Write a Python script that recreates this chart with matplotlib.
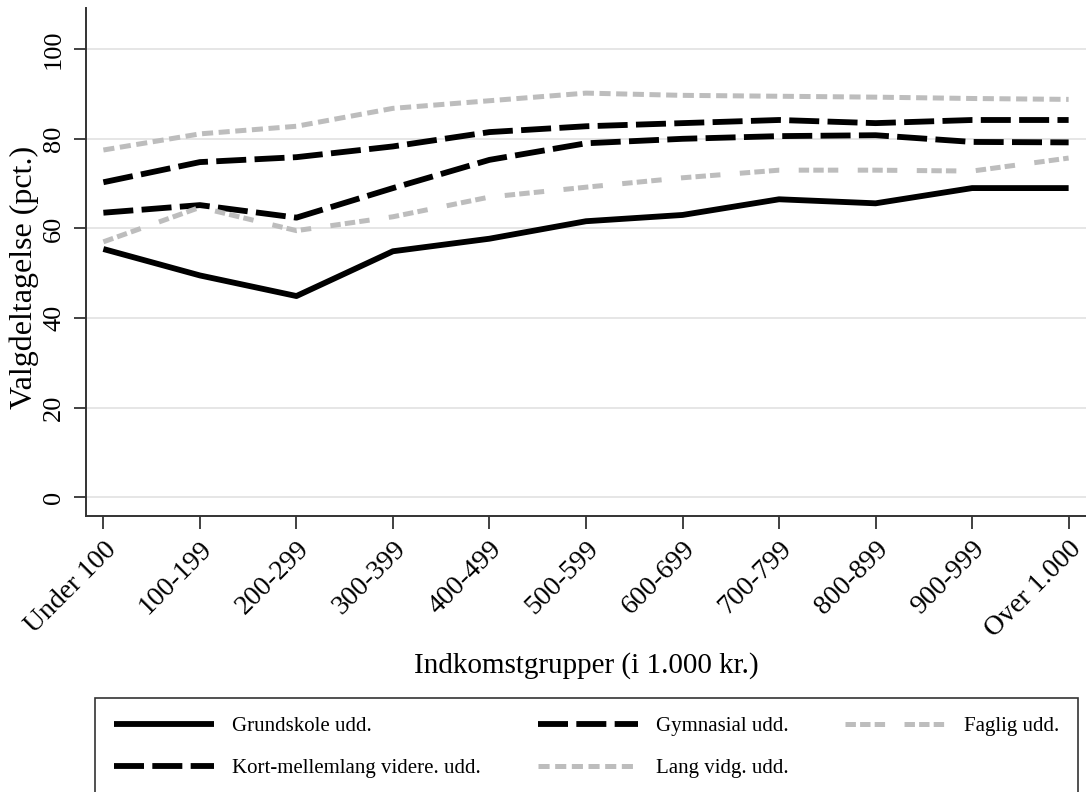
import matplotlib
matplotlib.use('Agg')
import matplotlib.pyplot as plt
import numpy as np

plt.rcParams['font.family'] = ['Liberation Serif', 'DejaVu Serif']
plt.rcParams['lines.scale_dashes'] = False

# data
groups = ['Under 100', '100-199', '200-299', '300-399', '400-499', '500-599',
          '600-699', '700-799', '800-899', '900-999', 'Over 1.000']
grundskole = [55.4, 49.5, 44.9, 54.9, 57.7, 61.6, 63.0, 66.5, 65.6, 69.0, 69.0]
gymnasial = [63.5, 65.2, 62.4, 69.0, 75.3, 79.0, 80.0, 80.6, 80.8, 79.3, 79.2]
faglig = [57.0, 64.7, 59.5, 62.6, 67.0, 69.2, 71.3, 73.0, 73.0, 72.8, 75.7]
kortmellem = [70.3, 74.8, 75.9, 78.3, 81.5, 82.8, 83.5, 84.2, 83.5, 84.2, 84.2]
langvid = [77.5, 81.1, 82.8, 86.8, 88.5, 90.2, 89.7, 89.5, 89.3, 89.0, 88.8]

x = np.arange(len(groups))
grey = '#bdbdbd'

fig = plt.figure(figsize=(10.86, 7.92), dpi=100)
ax = fig.add_axes([86/1086, 1-516/792, 1-86/1086, (516-8)/792])

l1, = ax.plot(x, grundskole, color='black', lw=4.2, label='Grundskole udd.')
l2, = ax.plot(x, gymnasial, color='black', lw=4.2, dashes=(21.6, 6), label='Gymnasial udd.')
l3, = ax.plot(x, faglig, color=grey, lw=3.6, dashes=(7.5, 3, 7.5, 3, 7.5, 14),
              label='Faglig udd.')
l4, = ax.plot(x, kortmellem, color='black', lw=4.2, dashes=(21.6, 6),
              label='Kort-mellemlang videre. udd.')
l5, = ax.plot(x, langvid, color=grey, lw=3.6, dashes=(8, 4), label='Lang vidg. udd.')
for ln in [l1, l2, l3, l4, l5]:
    ln.set_solid_capstyle('butt')
    ln.set_dash_capstyle('butt')

ax.set_xlim(-0.18, 10.18)
ax.set_ylim(-4.2, 109.2)
ax.set_yticks([0, 20, 40, 60, 80, 100])
ax.set_xticks(x)
ax.set_xticklabels(groups, rotation=45, ha='right', rotation_mode='anchor', fontsize=20)
for lab in ax.get_yticklabels():
    lab.set_rotation(90)
    lab.set_va('center')
    lab.set_fontsize(19)
ax.tick_params(axis='both', direction='out', length=9, width=1.3, color='#333333', pad=6)
ax.grid(axis='y', color='#e6e6e6', lw=1.4)
ax.set_axisbelow(True)
for s in ['top', 'right']:
    ax.spines[s].set_visible(False)
for s in ['left', 'bottom']:
    ax.spines[s].set_color('#333333')
    ax.spines[s].set_linewidth(1.4)

ax.set_ylabel('Valgdeltagelse (pct.)', fontsize=23)
ax.yaxis.set_label_coords(-0.047, 0.47)
ax.set_xlabel('Indkomstgrupper (i 1.000 kr.)', fontsize=21)
ax.xaxis.set_label_coords(0.5, -0.268)

order = [l1, l4, l2, l5, l3]
leg = fig.legend(order, [h.get_label() for h in order],
                 loc='upper left', bbox_to_anchor=(95/1086, 0.0, (1078-95)/1086, 1-698/792),
                 mode='expand', ncol=3, fontsize=15, handlelength=4.8, handletextpad=0.9,
                 frameon=True, fancybox=False, edgecolor='black', borderpad=0.9,
                 labelspacing=1.05, borderaxespad=0)
leg.get_frame().set_linewidth(1.2)

fig.savefig('out.png', dpi=100, facecolor='white')
